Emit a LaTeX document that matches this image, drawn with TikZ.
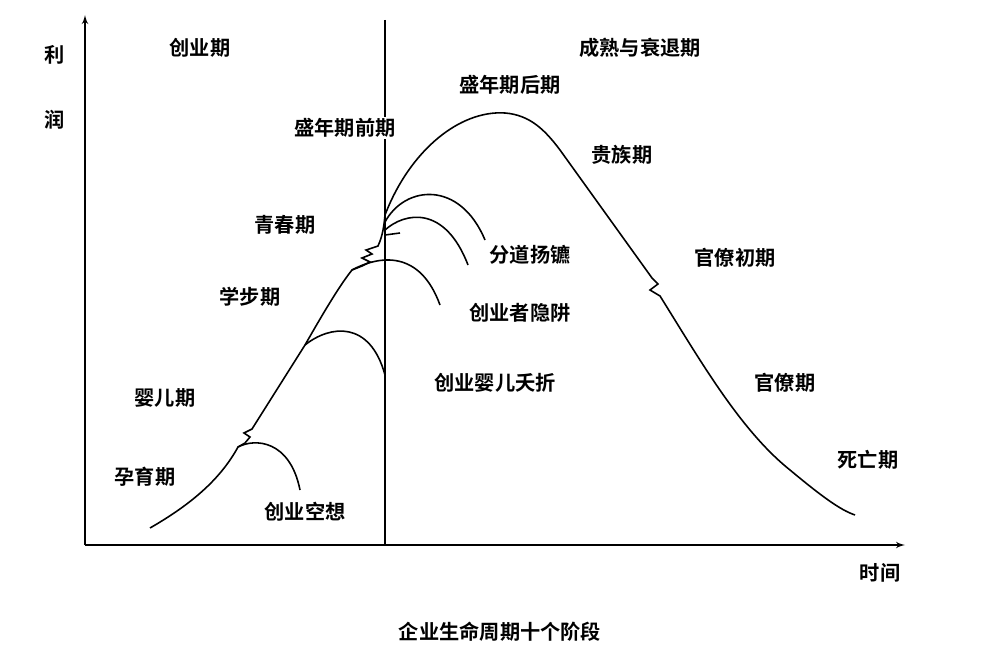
\documentclass[tikz,border=0pt]{standalone}
\usepackage{fontspec}
\setmainfont{Noto Sans CJK SC}[BoldFont={Noto Sans CJK SC Bold}]
\usetikzlibrary{arrows}
\tikzset{lbl/.style={font=\fontsize{11.5}{13}\selectfont\bfseries, inner sep=1pt}}
\tikzset{curve/.style={draw, line width=0.9pt}}
\begin{document}
\begin{tikzpicture}[x=0.02cm, y=-0.02cm]
	\useasboundingbox (0,0) rectangle (1000,665);
	% axes
	\coordinate (origin) at (85,545);
	\coordinate (ytop) at (85,15);
	\coordinate (xend) at (905,545);
	\draw [line width=0.8pt, -latex'] (origin) -- (ytop);
	\draw [line width=0.8pt, -latex'] (origin) -- (xend);
	\draw [line width=0.6pt] (385,20) -- (385,545);
	% main life cycle
	\draw [curve] (150,528) .. controls (190,505) and (220,480) .. (238,447)
		-- (245,443) -- (250,437) -- (244,433) -- (252,429)
		-- (305,345) .. controls (325,310) and (340,285) .. (352,270)
		-- (362,266) -- (370,262) -- (362,258) -- (372,254) -- (366,250) -- (378,246)
		.. controls (383,235) and (384,225) .. (385,215)
		.. controls (410,150) and (460,110) .. (505,113)
		.. controls (530,115) and (545,130) .. (560,150)
		-- (652,278) -- (658,284) -- (650,290) -- (660,296)
		.. controls (700,360) and (740,430) .. (790,470)
		.. controls (820,495) and (840,510) .. (855,515);
	% failure branches
	\draw [curve] (238,447) .. controls (255,438) and (290,440) .. (300,490);
	\draw [curve] (305,345) .. controls (330,325) and (370,320) .. (385,375);
	\draw [curve] (352,270) .. controls (380,255) and (420,250) .. (440,305);
	\draw [curve] (385,230) .. controls (405,212) and (445,205) .. (468,265);
	\draw [curve] (385,222) .. controls (405,185) and (460,180) .. (485,240);
	\draw [curve] (385,235) -- (400,233);
	% labels
	\node [lbl] (li) at (55,55) {利};
	\node [lbl] (run) at (55,120) {润};
	\node [lbl] (chuangye) at (200,48) {创业期};
	\node [lbl] (chengshu) at (640,48) {成熟与衰退期};
	\node [lbl] (shenghou) at (510,85) {盛年期后期};
	\node [lbl, fill=white] (shengqian) at (345,128) {盛年期前期};
	\node [lbl] (guizu) at (622,155) {贵族期};
	\node [lbl] (qingchun) at (285,225) {青春期};
	\node [lbl] (fendao) at (530,255) {分道扬镳};
	\node [lbl] (guanchu) at (735,258) {官僚初期};
	\node [lbl] (xuebu) at (250,297) {学步期};
	\node [lbl] (xianjing) at (520,313) {创业者隐阱};
	\node [lbl] (yinger) at (165,398) {婴儿期};
	\node [lbl] (yaozhe) at (495,383) {创业婴儿夭折};
	\node [lbl] (guanliao) at (785,383) {官僚期};
	\node [lbl] (yunyu) at (145,477) {孕育期};
	\node [lbl] (siwang) at (868,460) {死亡期};
	\node [lbl] (kongxiang) at (305,512) {创业空想};
	\node [lbl] (shijian) at (880,573) {时间};
	\node [lbl] (title) at (500,632) {企业生命周期十个阶段};
\end{tikzpicture}
\end{document}
